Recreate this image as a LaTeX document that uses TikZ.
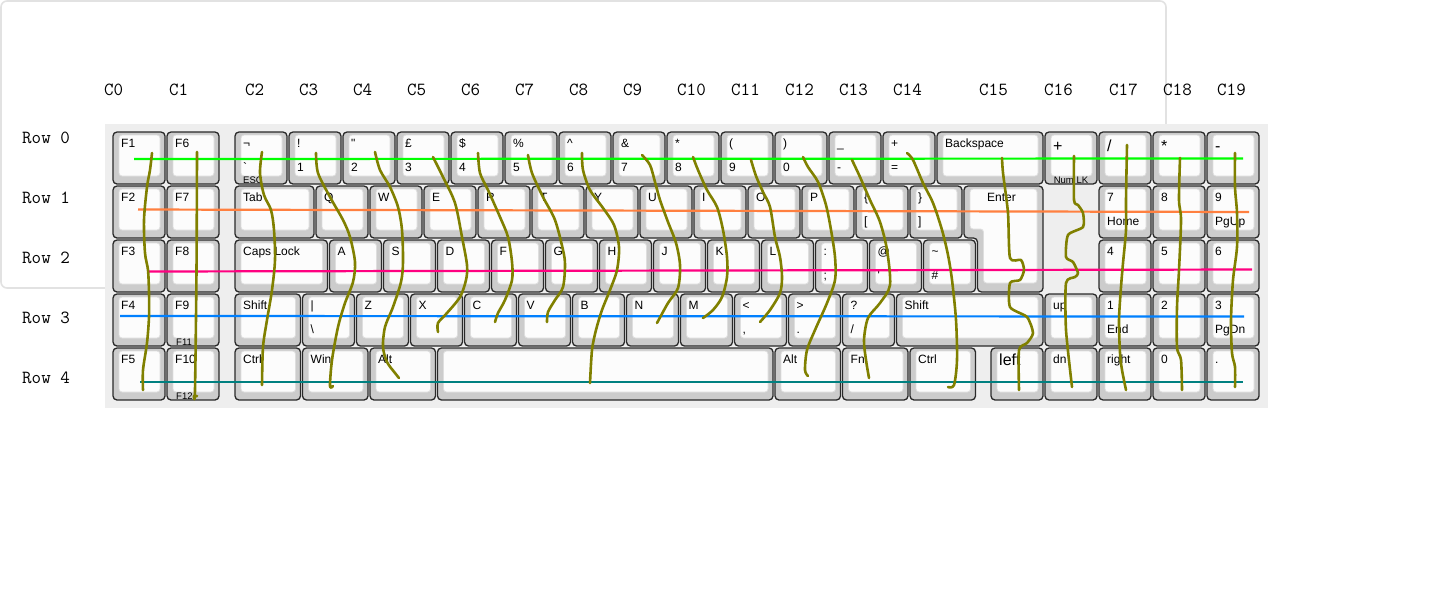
\documentclass[tikz,border=0pt]{standalone}
\usepackage{fontspec}
\setmainfont{Liberation Sans}

\definecolor{keyside}{HTML}{CCCCCC}
\definecolor{keytop}{HTML}{FCFCFC}
\definecolor{keyedge}{HTML}{2A2A2A}
\definecolor{keyrim}{HTML}{DEDEDE}
\definecolor{plate}{HTML}{EEEEEE}
\definecolor{panel}{HTML}{E2E2E2}
\definecolor{wirezero}{HTML}{00FF00}
\definecolor{wireone}{HTML}{FF8040}
\definecolor{wiretwo}{HTML}{FF0080}
\definecolor{wirethree}{HTML}{0080FF}
\definecolor{wirefour}{HTML}{008080}
\definecolor{olivewire}{HTML}{808000}

% #1 name, #2 x, #3 row top, #4 width, #5 upper label, #6 lower label
\newcommand{\keycap}[6]{%
  \node[keyouter, minimum width={(#4-2)*1pt}] (#1) at (#2+1,#3+1) {};
  \node[keyinner, minimum width={(#4-13)*1pt}] (#1-in) at ([shift={(6pt,-3pt)}]#1.north west) {};
  \node[keylbl] (#1-up) at ([shift={(8pt,-15pt)}]#1.north west) {#5};
  \node[keylbl] (#1-lo) at ([shift={(8pt,-39pt)}]#1.north west) {#6};
}

\begin{document}
\begin{tikzpicture}[x=1pt, y=-1pt,
    keyouter/.style={draw=keyedge, fill=keyside, line width=1.3pt, rounded corners=4pt, minimum height=52pt, inner sep=0pt, outer sep=0pt, anchor=north west},
    keyinner/.style={draw=keyrim, fill=keytop, line width=0.8pt, rounded corners=3pt, minimum height=41pt, inner sep=0pt, outer sep=0pt, anchor=north west},
    keylbl/.style={anchor=base west, inner sep=0pt, font=\fontsize{12}{12}\selectfont},
    smalllbl/.style={anchor=base west, inner sep=0pt, font=\fontsize{9.5}{9.5}\selectfont},
    biglbl/.style={anchor=base west, inner sep=0pt, font=\fontsize{16}{16}\selectfont},
    rowlbl/.style={anchor=base west, inner sep=0pt, font=\ttfamily\fontsize{18.5}{18.5}\selectfont},
    rowwire/.style={line width=2.2pt},
    colwire/.style={draw=olivewire, line width=2.6pt, line cap=round, line join=round}]

\useasboundingbox (0,0) rectangle (1439,598);
\fill[white] (0,0) rectangle (1439,598);

% panel and plate
\draw[panel, line width=1.6pt, rounded corners=6pt] (1,1) rectangle (1166,288);
\fill[plate] (105,124) rectangle (1268,408);

% labels for rows and columns
\foreach \r in {0,...,4}
  \node[rowlbl] (row\r) at (22,143+60*\r) {Row \r};
\foreach \c/\x in {0/104,1/169,2/245,3/299,4/353,5/407,6/461,7/515,8/569,9/623,10/677,11/731,12/785,13/839,14/893,15/979,16/1044,17/1109,18/1163,19/1217}
  \node[rowlbl] (col\c) at (\x,95) {C\c};

% function block
\foreach \f [count=\i from 0] in {1,...,5}
  {\keycap{f\f}{112}{131+54*\i}{54}{F\f}{}}
\foreach \f [count=\i from 0] in {6,...,10}
  {\keycap{f\f}{166}{131+54*\i}{54}{F\f}{}}
\node[smalllbl] (f11) at ([shift={(9pt,-51.5pt)}]f9.north west) {F11};
\node[smalllbl] (f12) at ([shift={(9pt,-51.5pt)}]f10.north west) {F12};

% row 0
\keycap{esc}{234}{131}{54}{¬}{\textasciigrave}
\node[smalllbl] (esc-s) at ([shift={(8pt,-51.5pt)}]esc.north west) {ESC};
\foreach \nm/\up/\lo [count=\i from 0] in {one/!/1, two/\textquotedbl/2, three/£/3, four/\$/4, five/\%/5, six/\textasciicircum/6, seven/\&/7, eight/*/8, nine/(/9, zero/)/0, minus/\_/-, equal/+/=}
  {\keycap{\nm}{288+54*\i}{131}{54}{\up}{\lo}}
\keycap{bksp}{936}{131}{108}{Backspace}{}

% row 1
\keycap{tab}{234}{185}{81}{Tab}{}
\foreach \l [count=\i from 0] in {Q,W,E,R,T,Y,U,I,O,P}
  {\keycap{k\l}{315+54*\i}{185}{54}{\l}{}}
\keycap{lbrack}{855}{185}{54}{\{}{[}
\keycap{rbrack}{909}{185}{54}{\}}{]}
\draw[draw=keyedge, fill=keyside, line width=1.3pt, rounded corners=4pt]
  (964,186) -- (1043,186) -- (1043,292) -- (977.5,292) -- (977.5,238) -- (964,238) -- cycle;
\draw[draw=keyrim, fill=keytop, line width=0.8pt, rounded corners=3pt]
  (970,189) -- (1037,189) -- (1037,283) -- (983.5,283) -- (983.5,229) -- (970,229) -- cycle;
\node[keylbl] (enter) at (987,201) {Enter};

% row 2
\keycap{caps}{234}{239}{94.5}{Caps Lock}{}
\foreach \l [count=\i from 0] in {A,S,D,F,G,H,J,K,L}
  {\keycap{k\l}{328.5+54*\i}{239}{54}{\l}{}}
\keycap{semi}{814.5}{239}{54}{:}{;}
\keycap{quote}{868.5}{239}{54}{@}{\textquotesingle}
\keycap{hash}{922.5}{239}{54}{\textasciitilde}{\#}

% row 3
\keycap{lshift}{234}{293}{67.5}{Shift}{}
\keycap{bslash}{301.5}{293}{54}{|}{\textbackslash}
\foreach \l [count=\i from 0] in {Z,X,C,V,B,N,M}
  {\keycap{k\l}{355.5+54*\i}{293}{54}{\l}{}}
\keycap{comma}{733.5}{293}{54}{<}{,}
\keycap{period}{787.5}{293}{54}{>}{.}
\keycap{slash}{841.5}{293}{54}{?}{/}
\keycap{rshift}{895.5}{293}{148.5}{Shift}{}

% row 4
\keycap{lctrl}{234}{347}{67.5}{Ctrl}{}
\keycap{win}{301.5}{347}{67.5}{Win}{}
\keycap{lalt}{369}{347}{67.5}{Alt}{}
\keycap{space}{436.5}{347}{337.5}{}{}
\keycap{ralt}{774}{347}{67.5}{Alt}{}
\keycap{fn}{841.5}{347}{67.5}{Fn}{}
\keycap{rctrl}{909}{347}{67.5}{Ctrl}{}
\keycap{left}{990}{347}{54}{}{}
\node[biglbl] (left-t) at ([shift={(8pt,-17pt)}]left.north west) {left};

% arrows and keypad
\keycap{numlk}{1044}{131}{54}{}{}
\node[biglbl] (numlk-t) at ([shift={(8pt,-19pt)}]numlk.north west) {+};
\node[smalllbl, anchor=base] (numlk-s) at ([yshift=-51.5pt]numlk.north) {Num LK};
\keycap{kpslash}{1098}{131}{54}{}{}
\node[biglbl] (kpslash-t) at ([shift={(8pt,-19pt)}]kpslash.north west) {/};
\keycap{kpstar}{1152}{131}{54}{}{}
\node[biglbl] (kpstar-t) at ([shift={(8pt,-19pt)}]kpstar.north west) {*};
\keycap{kpminus}{1206}{131}{54}{}{}
\node[biglbl] (kpminus-t) at ([shift={(8pt,-19pt)}]kpminus.north west) {-};
\keycap{kpseven}{1098}{185}{54}{7}{Home}
\keycap{kpeight}{1152}{185}{54}{8}{}
\keycap{kpnine}{1206}{185}{54}{9}{PgUp}
\keycap{kpfour}{1098}{239}{54}{4}{}
\keycap{kpfive}{1152}{239}{54}{5}{}
\keycap{kpsix}{1206}{239}{54}{6}{}
\keycap{up}{1044}{293}{54}{up}{}
\keycap{kpone}{1098}{293}{54}{1}{End}
\keycap{kptwo}{1152}{293}{54}{2}{}
\keycap{kpthree}{1206}{293}{54}{3}{PgDn}
\keycap{dn}{1044}{347}{54}{dn}{}
\keycap{right}{1098}{347}{54}{right}{}
\keycap{kpzero}{1152}{347}{54}{0}{}
\keycap{kpdot}{1206}{347}{54}{.}{}

% row wires
\draw[rowwire, wirezero] (134,159) -- (1243,158.5);
\draw[rowwire, wireone] (138,209.5) -- (1249,212);
\draw[rowwire, wiretwo] (148,271.5) -- (1252,269.5);
\draw[rowwire, wirethree] (120,316) -- (1244,316.5);
\draw[rowwire, wirefour] (140,382) -- (1243,382);

% column wires
\draw[colwire] plot[smooth] coordinates {(152,153) (150,170) (147,187) (144,220) (145,253) (148,270) (149,293) (149,317) (147,343) (143,370) (143,390)};
\draw[colwire] plot[smooth] coordinates {(197,152) (196.5,270) (195,390) (194,396) (197,396)};
\draw[colwire] plot[smooth] coordinates {(262,152) (260,173) (264,195) (271,210) (274,230) (275,260) (272,290) (267,320) (263,347) (262,385)};
\draw[colwire] plot[smooth] coordinates {(316,153) (318,173) (330,197) (343,220) (350,237) (355,262) (353,282) (345,303) (338,327) (332,360) (330,386) (333,386)};
\draw[colwire] plot[smooth] coordinates {(375,152) (380,170) (390,187) (398,207) (402,230) (403,262) (401,282) (393,307) (385,327) (383,347) (387,362) (395,373) (399,378)};
\draw[colwire] plot[smooth] coordinates {(433,157) (443,177) (455,203) (462,237) (467,265) (466,280) (460,297) (447,313) (438,323) (438,332)};
\draw[colwire] plot[smooth] coordinates {(478,153) (480,173) (488,190) (500,217) (508,237) (512,262) (512,280) (505,300) (498,313) (495,322)};
\draw[colwire] plot[smooth] coordinates {(528,155) (532,173) (543,197) (555,220) (563,250) (565,265) (563,287) (555,300) (548,312) (547,322)};
\draw[colwire] plot[smooth] coordinates {(582,153) (583,170) (590,190) (603,208) (614,225) (619,247) (617,270) (610,290) (602,310) (596,330) (592,350) (590,383)};
\draw[colwire] plot[smooth] coordinates {(642,155) (650,165) (655,182) (660,200) (668,222) (676,243) (680,265) (678,288) (668,303) (657,323)};
\draw[colwire] plot[smooth] coordinates {(693,157) (698,170) (707,190) (717,207) (723,230) (727,257) (727,277) (722,297) (713,310) (703,318)};
\draw[colwire] plot[smooth] coordinates {(751,160) (756,176) (763,192) (770,207) (775,237) (780,257) (782,277) (780,293) (770,310) (760,322)};
\draw[colwire] plot[smooth] coordinates {(803,157) (808,167) (818,182) (826,205) (831,230) (835,257) (835,280) (827,303) (815,330) (807,350) (805,370) (808,376)};
\draw[colwire] plot[smooth] coordinates {(852,160) (860,177) (870,200) (880,222) (887,250) (890,285) (880,303) (868,318) (864,340) (866,360) (869,378)};
\draw[colwire] plot[smooth] coordinates {(907,153) (913,160) (923,183) (933,203) (942,230) (948,255) (952,280) (956,320) (957,360) (954,385) (948,387)};
\draw[colwire] plot[smooth, tension=0.4] coordinates {(1002,158) (1003,173) (1008,213) (1010,258) (1021,260) (1024,270) (1020,280) (1010,283) (1010,307) (1027,317) (1033,333) (1027,343) (1019,350) (1019,390)};
\draw[colwire] plot[smooth, tension=0.4] coordinates {(1074,156) (1074,200) (1078,205) (1083,213) (1083,227) (1068,235) (1066,257) (1073,262) (1078,273) (1075,277) (1066,283) (1066,330) (1072,387)};
\draw[colwire] plot[smooth] coordinates {(1127,145) (1126,200) (1126,230) (1123,263) (1121,287) (1119,320) (1120,353) (1122,370) (1126,390)};
\draw[colwire] plot[smooth] coordinates {(1180,158) (1179,200) (1181,220) (1179,270) (1177,307) (1177,347) (1181,360) (1182,390)};
\draw[colwire] plot[smooth] coordinates {(1235,153) (1235,187) (1237,213) (1237,247) (1233,280) (1231,320) (1232,353) (1235,367) (1235,387)};
\end{tikzpicture}
\end{document}
